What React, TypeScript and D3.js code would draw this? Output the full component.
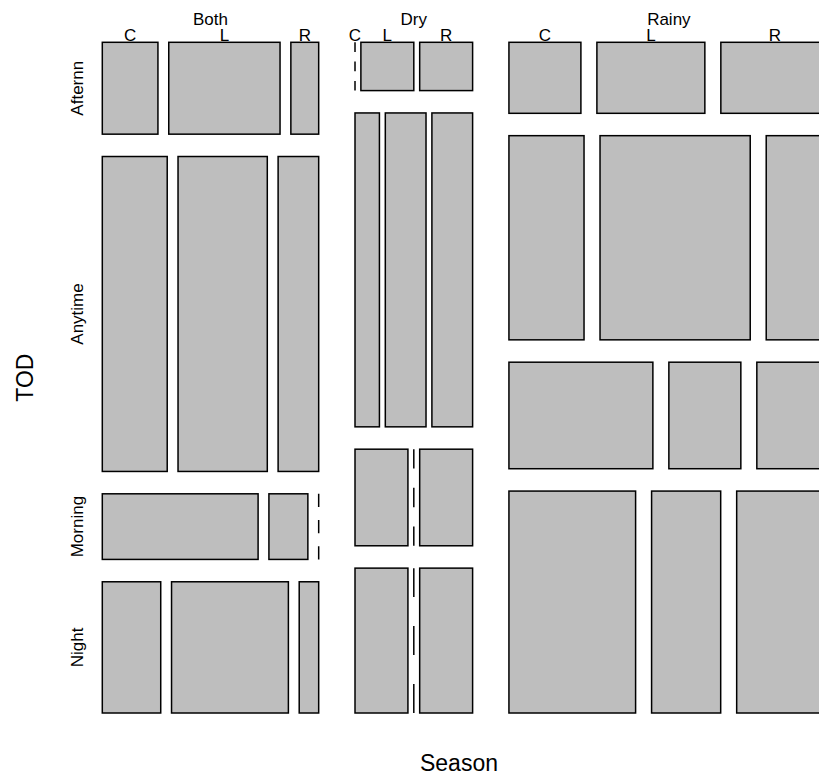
import * as d3 from 'd3'
import React from 'react'

const seasons = ['Both', 'Dry', 'Rainy']
const tods = ['Afternn', 'Anytime', 'Morning', 'Night']
const sides = ['C', 'L', 'R']

// counts per TOD row, in C / L / R order
const bothCounts = [[2, 4, 1], [8, 11, 5], [4, 1, 0], [3, 6, 1]]
const dryCounts = [[0, 1, 1], [3, 5, 5], [2, 0, 2], [3, 0, 3]]
const rainyCounts = [[2, 3, 3], [6, 12, 5], [6, 3, 3], [11, 6, 8]]
const counts = [bothCounts, dryCounts, rainyCounts]

const W = 819
const H = 778
const x0 = 102.3
const x1 = 828.8
const y0 = 42.3
const y1 = 713
const off = 0.1
const font = '"Liberation Sans", Arial, Helvetica, sans-serif'

// mosaicplot style split: 10% of the span is shared out as gaps
const split = (values: number[], a: number, b: number) => {
  const gap = (off * (b - a)) / Math.max(1, values.length - 1)
  const scale = d3
    .scaleLinear()
    .domain([0, d3.sum(values)])
    .range([0, (1 - off) * (b - a)])
  let pos = a
  return values.map((v) => {
    const seg = [pos, pos + scale(v)]
    pos = seg[1] + gap
    return seg
  })
}

export default function App() {
  const cols = split(
    counts.map((s) => d3.sum(s, (r) => d3.sum(r))),
    x0,
    x1
  )

  const tiles: any[] = []
  const rowsBySeason = counts.map((season, i) => {
    const rows = split(
      season.map((r) => d3.sum(r)),
      y0,
      y1
    )
    rows.forEach((row, j) => {
      const cells = split(season[j], cols[i][0], cols[i][1])
      cells.forEach((cell, k) => {
        tiles.push({ i, j, k, n: season[j][k], x: cell, y: row })
      })
    })
    return rows
  })

  const firstRow = counts.map((season, i) => split(season[0], cols[i][0], cols[i][1]))

  return (
    <div style={{ position: 'absolute', left: 0, top: 0 }}>
      <svg width={W} height={H} style={{ display: 'block' }} fontFamily={font}>
        {tiles.map((t) =>
          t.n > 0 ? (
            <rect
              key={`${t.i}-${t.j}-${t.k}`}
              x={t.x[0]}
              y={t.y[0]}
              width={t.x[1] - t.x[0]}
              height={t.y[1] - t.y[0]}
              fill="#bebebe"
              stroke="#000"
              strokeWidth={1.5}
            />
          ) : (
            <line
              key={`${t.i}-${t.j}-${t.k}`}
              x1={t.x[0]}
              x2={t.x[0]}
              y1={t.y[0]}
              y2={t.y[1]}
              stroke="#000"
              strokeWidth={1.5}
              strokeDasharray={`${(t.y[1] - t.y[0]) / 5} ${(t.y[1] - t.y[0]) / 5}`}
            />
          )
        )}

        {seasons.map((s, i) => (
          <text key={s} x={(cols[i][0] + cols[i][1]) / 2} y={24.5} fontSize={17} textAnchor="middle">
            {s}
          </text>
        ))}

        {firstRow.map((cells, i) =>
          cells.map((c, k) => (
            <text key={`${i}-${k}`} x={(c[0] + c[1]) / 2} y={40.5} fontSize={17} textAnchor="middle">
              {sides[k]}
            </text>
          ))
        )}

        {rowsBySeason[0].map((r, j) => (
          <text
            key={tods[j]}
            transform={`translate(83,${(r[0] + r[1]) / 2}) rotate(-90)`}
            fontSize={17}
            textAnchor="middle"
          >
            {tods[j]}
          </text>
        ))}

        <text x={459} y={771} fontSize={23} textAnchor="middle">
          Season
        </text>
        <text transform={`translate(33,${(y0 + y1) / 2}) rotate(-90)`} fontSize={23} textAnchor="middle">
          TOD
        </text>
      </svg>
    </div>
  )
}
